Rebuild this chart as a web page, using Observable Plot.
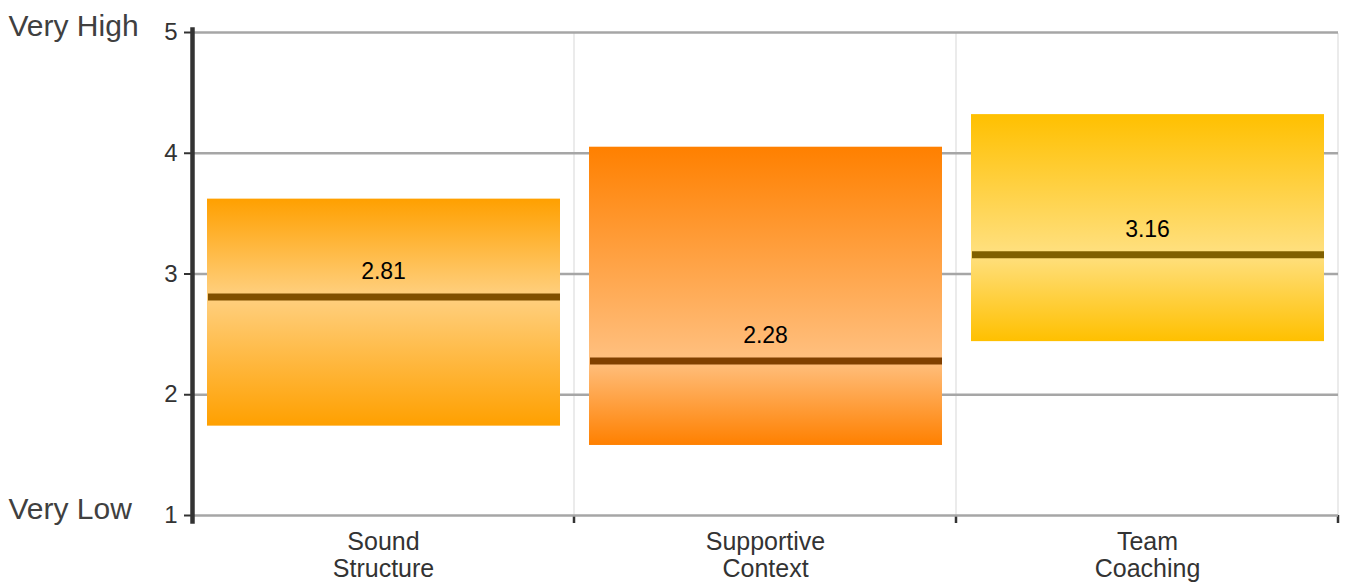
<!DOCTYPE html>
<html><head><meta charset="utf-8">
<script src="https://cdn.jsdelivr.net/npm/d3@7"></script>
<script src="https://cdn.jsdelivr.net/npm/@observablehq/plot@0.6"></script>
<style>body{margin:0;background:#fff;} #chart svg{display:block;}</style>
</head><body><div id="chart"></div>
<script>
// ---- data ----
const categories = ["Sound Structure", "Supportive Context", "Team Coaching"];
const lows  = [1.74, 1.58, 2.44];
const highs = [3.62, 4.05, 4.32];
const means = [2.81, 2.28, 3.16];
const yTicks = [1, 2, 3, 4, 5];
const extremeValues = [5, 1];
const extremeLabels = ["Very High", "Very Low"];
// ---- styles ----
const baseColors = ["#ffa000", "#ff8000", "#ffc000"];

const rows = categories.map((c, i) => ({
  cat: c, low: lows[i], high: highs[i], mean: means[i], i,
  fill: `url(#bargrad-${i})`,
  line: d3.interpolateRgb(baseColors[i], "#000")(0.5)
}));
const extremes = extremeValues.map((v, i) => ({y: v, text: extremeLabels[i]}));

function gradients() {
  const g = d3.create("svg:g");
  const defs = g.append("defs");
  rows.forEach(r => {
    const f = (r.high - r.mean) / (r.high - r.low);
    const light = d3.interpolateRgb(baseColors[r.i], "#fff")(0.5);
    const lg = defs.append("linearGradient").attr("id", `bargrad-${r.i}`)
      .attr("x1", 0).attr("y1", 0).attr("x2", 0).attr("y2", 1);
    lg.append("stop").attr("offset", 0).attr("stop-color", baseColors[r.i]);
    lg.append("stop").attr("offset", f).attr("stop-color", light);
    lg.append("stop").attr("offset", 1).attr("stop-color", baseColors[r.i]);
  });
  return g.node();
}

function bandBoundaries(index, scales, values, dimensions) {
  const x = scales.x, y = scales.y;
  const bw = typeof x.bandwidth === "function" ? x.bandwidth() : scales.scales.x.bandwidth;
  const edges = categories.map(c => x(c)).concat([x(categories[categories.length - 1]) + bw]);
  const g = d3.create("svg:g");
  const y0 = y(yTicks[yTicks.length - 1]), y1 = y(yTicks[0]);
  edges.slice(1).forEach(e => {
    g.append("line").attr("x1", e).attr("x2", e).attr("y1", y0 + 1).attr("y2", y1)
      .attr("stroke", "#ebebeb").attr("stroke-width", 2);
    g.append("line").attr("x1", e).attr("x2", e).attr("y1", y1).attr("y2", y1 + 8)
      .attr("stroke", "#333").attr("stroke-width", 2.5);
  });
  return g.node();
}

const chart = Plot.plot({
  width: 1346,
  height: 583,
  marginLeft: 192,
  marginRight: 8,
  marginTop: 32,
  marginBottom: 68,
  style: {fontFamily: "'Liberation Sans', Arial, sans-serif", background: "#fff", overflow: "visible"},
  x: {domain: categories, padding: 0, axis: null},
  y: {domain: [1, 5], axis: null},
  color: {type: "identity"},
  marks: [
    gradients,
    bandBoundaries,
    Plot.gridY(yTicks, {stroke: "#a6a6a6", strokeOpacity: 1, strokeWidth: 2.5}),
    Plot.barY(rows, {x: "cat", y1: "low", y2: "high", fill: "fill", insetLeft: 15, insetRight: 14}),
    Plot.tickY(rows, {x: "cat", y: "mean", stroke: "line", strokeWidth: 7, insetLeft: 16, insetRight: 14}),
    Plot.text(rows, {x: "cat", y: "mean", text: d => d.mean.toFixed(2), dy: -25, fontSize: 23, fill: "#000"}),
    Plot.axisY(yTicks, {ticks: yTicks, tickFormat: d3.format("d"), tickSize: 8, tickPadding: 7, fontSize: 24, color: "#333", strokeWidth: 2, label: null}),
    Plot.frame({anchor: "left", stroke: "#333", strokeWidth: 4.5, insetTop: -3, insetBottom: -6}),
    Plot.axisX({tickSize: 0, tickPadding: 16, fontSize: 25, lineHeight: 1.06, color: "#333", label: null,
      tickFormat: d => d.replace(" ", "\n")}),
    Plot.text(extremes, {y: "y", text: "text", frameAnchor: "left", dx: -184, dy: -6, textAnchor: "start", fontSize: 30, fill: "#404040"})
  ]
});
document.getElementById("chart").appendChild(chart);
</script>
</body></html>
